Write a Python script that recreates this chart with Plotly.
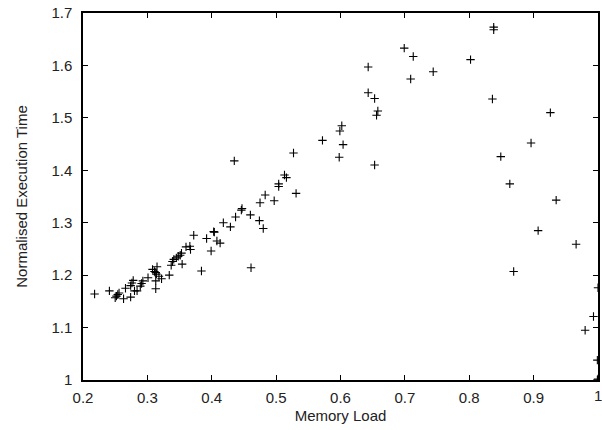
import plotly.graph_objects as go

memory_load = [
    0.218, 0.241, 0.250, 0.252, 0.254, 0.256, 0.263, 0.266, 0.274, 0.274,
    0.276, 0.278, 0.280, 0.284, 0.289, 0.291, 0.293, 0.301, 0.308, 0.311,
    0.313, 0.313, 0.313, 0.315, 0.314, 0.318, 0.322, 0.334, 0.337, 0.339,
    0.341, 0.345, 0.348, 0.351, 0.353, 0.354, 0.360, 0.366, 0.367, 0.372,
    0.384, 0.392, 0.399, 0.403, 0.404, 0.408, 0.413, 0.418, 0.429, 0.437,
    0.435, 0.446, 0.447, 0.460, 0.461, 0.474, 0.475, 0.480, 0.483, 0.497,
    0.504, 0.504, 0.513, 0.516, 0.527, 0.531, 0.572, 0.599, 0.602, 0.604,
    0.598, 0.653, 0.643, 0.643, 0.653, 0.658, 0.656, 0.699, 0.713, 0.709,
    0.744, 0.802, 0.838, 0.838, 0.836, 0.926, 0.896, 0.849, 0.863, 0.935,
    0.907, 0.966, 0.869, 1.000, 0.993, 0.980, 0.999, 1.000, 0.999, 1.000,
]
exec_time = [
    1.164, 1.170, 1.157, 1.160, 1.163, 1.166, 1.155, 1.175, 1.158, 1.180,
    1.185, 1.190, 1.170, 1.170, 1.179, 1.184, 1.189, 1.195, 1.211, 1.207,
    1.205, 1.189, 1.174, 1.216, 1.202, 1.198, 1.193, 1.200, 1.219, 1.226,
    1.230, 1.233, 1.236, 1.238, 1.242, 1.221, 1.254, 1.255, 1.249, 1.276,
    1.208, 1.270, 1.246, 1.283, 1.282, 1.265, 1.261, 1.300, 1.292, 1.311,
    1.418, 1.324, 1.327, 1.315, 1.214, 1.304, 1.338, 1.289, 1.353, 1.342,
    1.374, 1.369, 1.391, 1.386, 1.433, 1.356, 1.457, 1.475, 1.485, 1.449,
    1.425, 1.410, 1.597, 1.548, 1.537, 1.513, 1.505, 1.633, 1.617, 1.574,
    1.588, 1.611, 1.673, 1.668, 1.536, 1.510, 1.452, 1.426, 1.374, 1.343,
    1.285, 1.259, 1.207, 1.176, 1.121, 1.095, 1.038, 1.002, 1.000, 1.000,
]

x_ticks = [0.2, 0.3, 0.4, 0.5, 0.6, 0.7, 0.8, 0.9, 1.0]
x_tick_text = ["0.2", "0.3", "0.4", "0.5", "0.6", "0.7", "0.8", "0.9", "1"]
y_ticks = [1.0, 1.1, 1.2, 1.3, 1.4, 1.5, 1.6, 1.7]
y_tick_text = ["1", "1.1", "1.2", "1.3", "1.4", "1.5", "1.6", "1.7"]

FONT = "Liberation Sans, Arial, sans-serif"

fig = go.Figure()
fig.add_trace(go.Scatter(
    x=memory_load, y=exec_time, mode="markers",
    marker=dict(symbol="cross-thin", size=6, line=dict(color="black", width=1.1)),
    showlegend=False,
))

axis_common = dict(
    showgrid=False, zeroline=False, showline=True, linecolor="black", linewidth=1.5,
    mirror="ticks", ticks="inside", ticklen=5, tickwidth=1, tickcolor="black",
    tickfont=dict(family=FONT, size=15, color="#222"),
)

fig.update_layout(
    width=602, height=430,
    margin=dict(l=83, r=2, t=13, b=50),
    paper_bgcolor="white", plot_bgcolor="white",
    xaxis=dict(range=[0.2, 1.0], tickvals=x_ticks, ticktext=x_tick_text,
               ticklabelstandoff=3,
               title=dict(text="Memory Load", standoff=6,
                          font=dict(family=FONT, size=15, color="#222")),
               **axis_common),
    yaxis=dict(range=[1.0, 1.7], tickvals=y_ticks, ticktext=y_tick_text,
               ticklabelstandoff=6,
               title=dict(text="Normalised Execution Time", standoff=20,
                          font=dict(family=FONT, size=15, color="#222")),
               **axis_common),
)

# the last x tick label is cut by the page edge in the reference; plotly drops it, so draw it
fig.add_annotation(x=x_ticks[-1], xref="x", y=0, yref="paper", yanchor="top", yshift=-5,
                   text=x_tick_text[-1], showarrow=False, xanchor="center",
                   font=dict(family=FONT, size=15, color="#222"))

fig.write_html("out.html")
